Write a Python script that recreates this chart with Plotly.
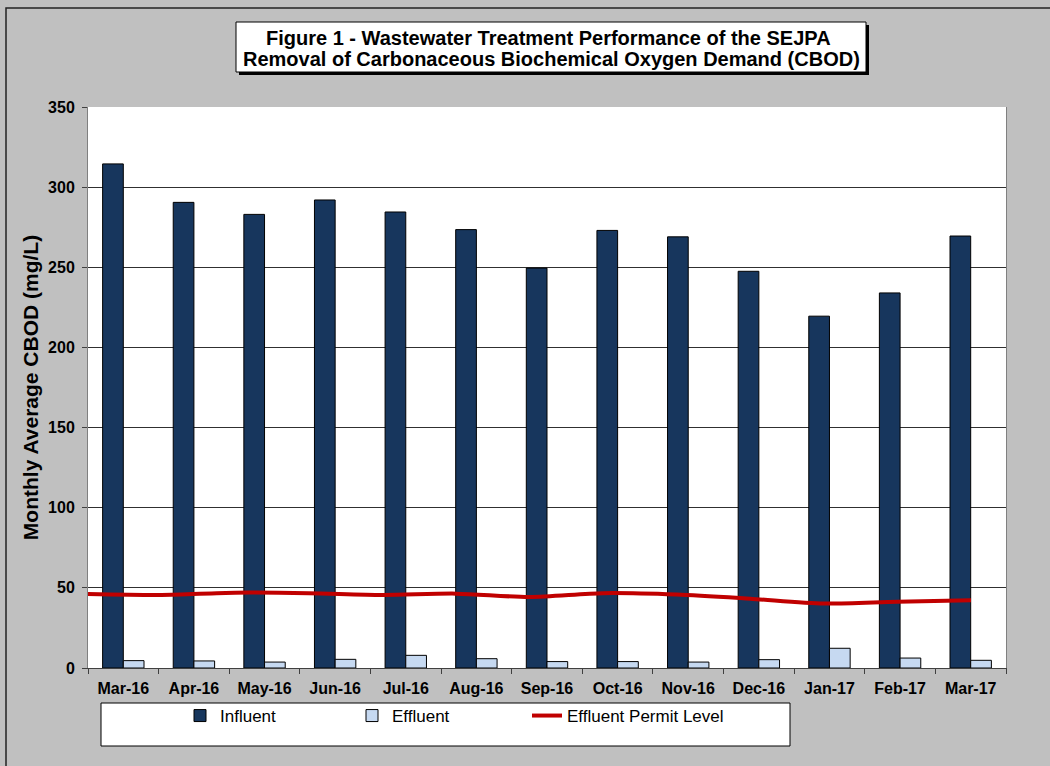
import plotly.graph_objects as go

months = ["Mar-16", "Apr-16", "May-16", "Jun-16", "Jul-16", "Aug-16", "Sep-16",
          "Oct-16", "Nov-16", "Dec-16", "Jan-17", "Feb-17", "Mar-17"]
influent = [314.5, 290.5, 283, 292, 284.5, 273.5, 249.5, 273, 269, 247.5, 219.5, 234, 269.5]
effluent = [4.6, 4.4, 3.7, 5.4, 7.9, 5.8, 4.0, 4.0, 3.7, 5.2, 12.3, 6.2, 4.8]
permit = [46.2, 45.6, 47.0, 46.7, 45.6, 46.4, 44.3, 46.7, 45.8, 43.2, 40.2, 41.4, 42.2]

title_lines = ["Figure 1 - Wastewater Treatment Performance of the SEJPA",
               "Removal of Carbonaceous Biochemical Oxygen Demand (CBOD)"]
y_title = "Monthly Average CBOD (mg/L)"

FONT = "Liberation Sans, Arial, sans-serif"

fig = go.Figure()
fig.add_trace(go.Bar(x=months, y=influent, name="Influent", legend="legend",
                     marker=dict(color="#17365D", line=dict(color="#000000", width=1))))
fig.add_trace(go.Bar(x=months, y=effluent, name="Effluent", legend="legend2",
                     marker=dict(color="#C6D9F1", line=dict(color="#000000", width=1))))
fig.add_trace(go.Scatter(x=months, y=permit, name="Effluent Permit Level", xaxis="x2", legend="legend3",
                         mode="lines", line=dict(color="#C00000", width=4, shape="spline", smoothing=0.8)))

# plot area: x 88..1006, y 107..668
W, H = 1050, 766
L, R, T, B = 88, 1006, 107, 668
def px(x):
    return (x - L) / (R - L)
def py(y):
    return (B - y) / (B - T)

shapes = [
    # outer chart border (left/top visible)
    dict(type="rect", xref="paper", yref="paper", x0=px(6), x1=px(1070), y0=py(790), y1=py(8),
         line=dict(color="#222222", width=1.5), fillcolor="rgba(0,0,0,0)", layer="below"),
    # title shadow
    dict(type="rect", xref="paper", yref="paper", x0=px(239), x1=px(869), y0=py(75), y1=py(25),
         line=dict(width=0), fillcolor="#000000"),
    # title box
    dict(type="rect", xref="paper", yref="paper", x0=px(236), x1=px(866), y0=py(72), y1=py(22),
         line=dict(color="#000000", width=1), fillcolor="#FFFFFF"),
    # legend box
    dict(type="rect", xref="paper", yref="paper", x0=px(101), x1=px(790), y0=py(746), y1=py(703),
         line=dict(color="#000000", width=1), fillcolor="#FFFFFF", layer="below"),
]

annotations = [
    dict(text="<b>" + title_lines[0] + "</b>", xref="paper", yref="paper", x=px(548), y=py(38),
         xanchor="center", yanchor="middle", showarrow=False,
         font=dict(size=20, family=FONT, color="#000000")),
    dict(text="<b>" + title_lines[1] + "</b>", xref="paper", yref="paper", x=px(551), y=py(59),
         xanchor="center", yanchor="middle", showarrow=False,
         font=dict(size=20, family=FONT, color="#000000")),
]

def leg(x):
    return dict(orientation="h", x=px(x), y=py(716), xanchor="left", yanchor="middle",
                bgcolor="rgba(0,0,0,0)", borderwidth=0,
                font=dict(size=17, family=FONT, color="#000000"), itemwidth=30)

fig.update_layout(
    width=W, height=H,
    margin=dict(l=L, r=W - R, t=T, b=H - B),
    paper_bgcolor="#C0C0C0",
    plot_bgcolor="#FFFFFF",
    font=dict(family=FONT, color="#000000"),
    barmode="group", bargap=0.414, bargroupgap=0,
    shapes=shapes,
    annotations=annotations,
    xaxis=dict(type="category", categoryorder="array", categoryarray=months,
               tickson="boundaries", ticks="outside", ticklen=5, tickcolor="#404040",
               showline=True, linecolor="#404040", linewidth=1, mirror=False,
               showgrid=False, tickfont=dict(size=16, family=FONT), ticklabelstandoff=6,
               tickprefix="<b>", ticksuffix="</b>", range=[-0.5, 12.5]),
    xaxis2=dict(type="category", categoryorder="array", categoryarray=months,
                overlaying="x", visible=False, range=[0, 12.476]),
    yaxis=dict(range=[0, 350], dtick=50, ticks="outside", ticklen=5, tickcolor="#404040",
               showline=True, linecolor="#808080", linewidth=1, mirror=True,
               showgrid=True, gridcolor="#303030", gridwidth=1, zeroline=False,
               tickfont=dict(size=16, family=FONT), tickprefix="<b>", ticksuffix="</b>",
               ticklabelstandoff=4,
               title=dict(text="<b>" + y_title + "</b>", font=dict(size=21, family=FONT), standoff=3)),
    legend=leg(180),
    legend2=leg(352),
    legend3=leg(527),
    showlegend=True,
)

fig.write_html("out.html", config={"displayModeBar": False},
               post_script="document.body.style.margin='0';document.body.style.background='#C0C0C0';")
